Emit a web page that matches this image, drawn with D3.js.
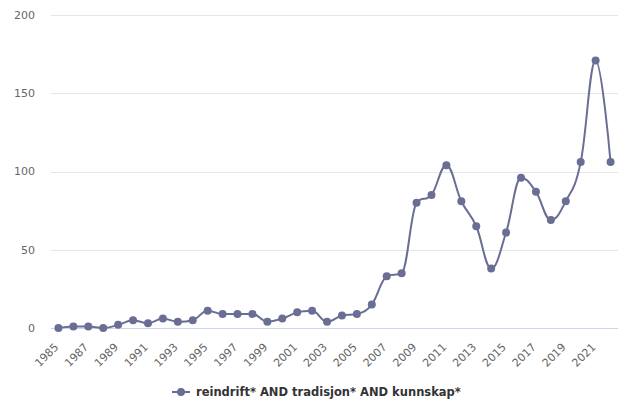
<!DOCTYPE html>
<html>
<head>
<meta charset="utf-8">
<script src="https://cdn.jsdelivr.net/npm/d3@7"></script>
<style>
  body { margin: 0; background: #fff; }
  svg { display: block; font-family: "DejaVu Sans", Verdana, sans-serif; }
</style>
</head>
<body>
<svg id="chart"></svg>
<script>
const years = d3.range(1985, 2023);
const counts = [0, 1, 1, 0, 2, 5, 3, 6, 4, 5,
                11, 9, 9, 9, 4, 6, 10, 11, 4, 8,
                9, 15, 33, 35, 80, 85, 104, 81, 65, 38,
                61, 96, 87, 69, 81, 106, 171, 106];
const yTicks = [0, 50, 100, 150, 200];
const seriesName = "reindrift* AND tradisjon* AND kunnskap*";

const width = 620, height = 401;
const plotLeft = 51, plotRight = 618, plotTop = 15, plotBottom = 328;
const color = "#6a6e95";

const svg = d3.select("#chart").attr("width", width).attr("height", height);

const x = d3.scaleBand().domain(years).range([plotLeft, plotRight]);
const y = d3.scaleLinear().domain([0, 200]).range([plotBottom, plotTop]);

// grid
svg.append("g").selectAll("line")
  .data(yTicks.filter(d => d > 0))
  .enter().append("line")
  .attr("x1", plotLeft).attr("x2", plotRight)
  .attr("y1", d => Math.round(y(d)) + 0.5).attr("y2", d => Math.round(y(d)) + 0.5)
  .attr("stroke", "#e6e6e6");

// y labels
svg.append("g").selectAll("text")
  .data(yTicks)
  .enter().append("text")
  .attr("x", 35).attr("y", d => y(d))
  .attr("dy", "0.35em")
  .attr("text-anchor", "end")
  .attr("font-size", 11).attr("fill", "#666")
  .text(d => d);

// x axis line
svg.append("line")
  .attr("x1", plotLeft).attr("x2", plotRight)
  .attr("y1", plotBottom + 0.5).attr("y2", plotBottom + 0.5)
  .attr("stroke", "#ccd6eb");

// x labels
const cx = d => x(d) + x.bandwidth() / 2;
svg.append("g").selectAll("text")
  .data(years.filter((d, i) => i % 2 === 0))
  .enter().append("text")
  .attr("transform", d => `translate(${cx(d) - 2},${plotBottom + 17}) rotate(-45)`)
  .attr("dy", "0.35em")
  .attr("text-anchor", "end")
  .attr("font-size", 11).attr("fill", "#666")
  .text(d => d);

// Highcharts-like spline
const pts = years.map((yr, i) => ({ px: cx(yr), py: y(counts[i]) }));
function splinePath(p) {
  const s = 1.5, den = s + 1;
  const path = d3.path();
  p.forEach((pt, i) => {
    const prev = p[i - 1], next = p[i + 1];
    let lcx, lcy;
    if (prev && next) {
      lcx = (s * pt.px + prev.px) / den;
      lcy = (s * pt.py + prev.py) / den;
      const rcx = (s * pt.px + next.px) / den;
      let rcy = (s * pt.py + next.py) / den;
      let corr = 0;
      if (rcx !== lcx) corr = ((rcy - lcy) * (rcx - pt.px)) / (rcx - lcx) + pt.py - rcy;
      lcy += corr; rcy += corr;
      if (lcy > prev.py && lcy > pt.py) { lcy = Math.max(prev.py, pt.py); rcy = 2 * pt.py - lcy; }
      else if (lcy < prev.py && lcy < pt.py) { lcy = Math.min(prev.py, pt.py); rcy = 2 * pt.py - lcy; }
      if (rcy > next.py && rcy > pt.py) { rcy = Math.max(next.py, pt.py); lcy = 2 * pt.py - rcy; }
      else if (rcy < next.py && rcy < pt.py) { rcy = Math.min(next.py, pt.py); lcy = 2 * pt.py - rcy; }
      pt.rcx = rcx; pt.rcy = rcy;
    }
    if (i === 0) path.moveTo(pt.px, pt.py);
    else path.bezierCurveTo(
      prev.rcx !== undefined ? prev.rcx : prev.px,
      prev.rcy !== undefined ? prev.rcy : prev.py,
      lcx !== undefined ? lcx : pt.px,
      lcy !== undefined ? lcy : pt.py,
      pt.px, pt.py);
  });
  return path.toString();
}

svg.append("path")
  .attr("d", splinePath(pts))
  .attr("fill", "none")
  .attr("stroke", color)
  .attr("stroke-width", 2)
  .attr("stroke-linejoin", "round");

svg.append("g").selectAll("circle")
  .data(years)
  .enter().append("circle")
  .attr("cx", d => cx(d))
  .attr("cy", (d, i) => y(counts[i]))
  .attr("r", 4)
  .attr("fill", color);

// legend
const lg = svg.append("g").attr("transform", "translate(172,392)");
lg.append("line").attr("x1", 0).attr("x2", 18).attr("y1", 0).attr("y2", 0)
  .attr("stroke", color).attr("stroke-width", 2);
lg.append("circle").attr("cx", 9).attr("cy", 0).attr("r", 4).attr("fill", color);
lg.append("text").attr("x", 24).attr("dy", "0.35em")
  .attr("font-size", 11.5).attr("font-weight", "bold").attr("fill", "#333")
  .text(seriesName);
</script>
</body>
</html>
